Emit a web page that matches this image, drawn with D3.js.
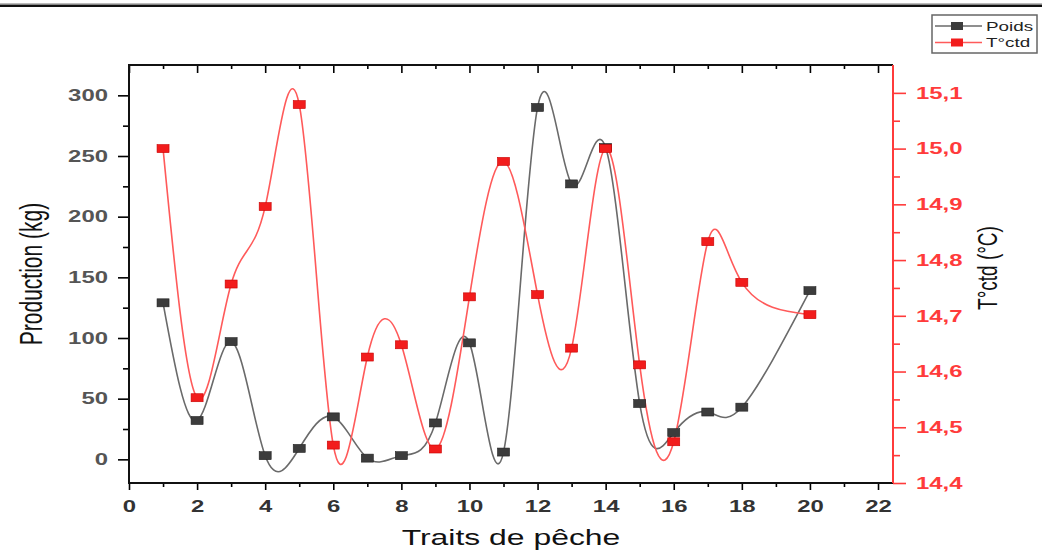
<!DOCTYPE html>
<html>
<head>
<meta charset="utf-8">
<script src="https://cdn.jsdelivr.net/npm/d3@7"></script>
<style>
  body { margin: 0; background: #fff; }
  svg { display: block; font-family: "Liberation Sans", Arial, sans-serif; }
</style>
</head>
<body>
<div id="my_dataviz"></div>
<script>
// data (trait 19 has no value)
var traits = [1, 2, 3, 4, 5, 6, 7, 8, 9, 10, 11, 12, 13, 14, 15, 16, 17, 18, 20];
var poids = [129, 32, 97, 3, 9, 35, 1, 3, 30, 96, 6, 290, 227, 257, 46, 22, 39, 43, 139];
var temp = [15.0, 14.553, 14.757, 14.896, 15.079, 14.468, 14.626, 14.648, 14.461, 14.734,
            14.977, 14.738, 14.642, 15.0, 14.612, 14.474, 14.833, 14.76, 14.702];

var xTicks = [0, 2, 4, 6, 8, 10, 12, 14, 16, 18, 20, 22];
var xMinor = [1, 3, 5, 7, 9, 11, 13, 15, 17, 19, 21];
var yTicks = [0, 50, 100, 150, 200, 250, 300];
var yMinor = [25, 75, 125, 175, 225, 275];
var tTicks = [14.4, 14.5, 14.6, 14.7, 14.8, 14.9, 15.0, 15.1];
var tMinor = [14.45, 14.55, 14.65, 14.75, 14.85, 14.95, 15.05];

var series = [
  {name: "Poids", line: "#6a6a6a", fill: "#3c3c3c", stroke: "#222"},
  {name: "T°ctd", line: "#ff5a5a", fill: "#f21c1c", stroke: "#c80000"}
];

var margin = {top: 65, right: 149, bottom: 68, left: 129},
    width = 1042 - margin.left - margin.right,
    height = 551 - margin.top - margin.bottom;
var stretch = 1.45; // the picture is widened, so is its text

var root = d3.select("#my_dataviz")
  .append("svg")
    .attr("width", 1042)
    .attr("height", 551);

// the page rule at the top of the scan
root.append("line")
  .attr("x1", 0).attr("x2", 1042)
  .attr("y1", 3.5).attr("y2", 3.5)
  .attr("stroke", "#bbb").attr("stroke-width", 1);
root.append("line")
  .attr("x1", 0).attr("x2", 1042)
  .attr("y1", 5.8).attr("y2", 5.8)
  .attr("stroke", "#111").attr("stroke-width", 2.5);

var svg = root.append("g")
  .attr("transform", "translate(" + margin.left + "," + margin.top + ")");

var x = d3.scaleLinear().domain([0, 22.44]).range([0, width]);
var y = d3.scaleLinear().domain([-19.5, 325]).range([height, 0]);
var y2 = d3.scaleLinear().domain([14.4, 15.15]).range([height, 0]);

var comma = d3.formatLocale({decimal: ",", thousands: ".", grouping: [3], currency: ["", ""]}).format(".1f");

// X axis bottom
svg.append("g")
  .attr("transform", "translate(0," + height + ")")
  .call(d3.axisBottom(x).tickValues(xMinor).tickSize(4).tickFormat(""));
var xAxis = svg.append("g")
  .attr("transform", "translate(0," + height + ")")
  .call(d3.axisBottom(x).tickValues(xTicks).tickSize(7).tickFormat(d3.format("d")));
xAxis.selectAll("text")
  .attr("y", 17)
  .attr("transform", "scale(" + stretch + ",1)")
  .style("font-size", "16.5px")
  .style("font-weight", "bold")
  .attr("fill", "#333");

// top ticks, pointing in
svg.append("g")
  .call(d3.axisTop(x).tickValues(xMinor).tickSize(-4).tickFormat(""));
svg.append("g")
  .call(d3.axisTop(x).tickValues(xTicks).tickSize(-8).tickFormat(""));

// Y axis left
svg.append("g")
  .call(d3.axisLeft(y).tickValues(yMinor).tickSize(6).tickFormat(""));
var yAxis = svg.append("g")
  .call(d3.axisLeft(y).tickValues(yTicks).tickSize(11));
yAxis.selectAll("text")
  .attr("x", -21 / stretch)
  .attr("transform", "scale(" + stretch + ",1)")
  .style("font-size", "16.5px")
  .style("font-weight", "bold")
  .attr("fill", "#555");

// Y axis right (temperature)
var rAxisMinor = svg.append("g")
  .attr("transform", "translate(" + width + ",0)")
  .call(d3.axisRight(y2).tickValues(tMinor).tickSize(7).tickFormat(""));
var rAxis = svg.append("g")
  .attr("transform", "translate(" + width + ",0)")
  .call(d3.axisRight(y2).tickValues(tTicks).tickSize(13).tickFormat(comma));
rAxis.selectAll("text")
  .attr("x", 23 / stretch)
  .attr("transform", "scale(" + stretch + ",1)")
  .style("font-size", "16.5px")
  .style("font-weight", "bold")
  .attr("fill", "#ff3b3b");
rAxis.selectAll("line").attr("stroke", "#ff3b3b");
rAxisMinor.selectAll("line").attr("stroke", "#ff3b3b");

svg.selectAll(".domain").remove();
svg.selectAll(".tick line").attr("stroke-width", 1.6);
svg.selectAll(".tick text").attr("font-family", null);

// frame
svg.append("path")
  .attr("d", "M" + width + ",0H0V" + height + "H" + width)
  .attr("fill", "none")
  .attr("stroke", "#111")
  .attr("stroke-width", 2);
svg.append("line")
  .attr("x1", width).attr("x2", width)
  .attr("y1", 0).attr("y2", height)
  .attr("stroke", "#ff3b3b")
  .attr("stroke-width", 2);

// axis titles
root.append("text")
  .attr("transform", "translate(" + (402 + 109) + ",545) scale(" + stretch + ",1)")
  .attr("text-anchor", "middle")
  .style("font-size", "22px")
  .attr("fill", "#111")
  .text("Traits de pêche");
root.append("text")
  .attr("transform", "translate(42,274) rotate(-90) scale(1," + stretch + ")")
  .attr("text-anchor", "middle")
  .style("font-size", "21px")
  .attr("fill", "#111")
  .text("Production (kg)");
root.append("text")
  .attr("transform", "translate(997,268) rotate(-90) scale(1," + stretch + ")")
  .attr("text-anchor", "middle")
  .style("font-size", "19px")
  .attr("fill", "#111")
  .text("T°ctd (°C)");

// Lines
var rows = traits.map(function(t, i) { return {t: t, p: poids[i], c: temp[i]}; });

var linePoids = d3.line()
  .curve(d3.curveNatural)
  .x(function(d) { return x(d.t); })
  .y(function(d) { return y(d.p); });
var lineTemp = d3.line()
  .curve(d3.curveNatural)
  .x(function(d) { return x(d.t); })
  .y(function(d) { return y2(d.c); });

svg.append("path")
  .datum(rows)
  .attr("d", linePoids)
  .attr("fill", "none")
  .attr("stroke", series[0].line)
  .attr("stroke-width", 1.6);
svg.append("path")
  .datum(rows)
  .attr("d", lineTemp)
  .attr("fill", "none")
  .attr("stroke", series[1].line)
  .attr("stroke-width", 1.6);

// square markers
svg.selectAll("mysquareP")
  .data(rows)
  .enter()
  .append("rect")
    .attr("x", function(d) { return x(d.t) - 6; })
    .attr("y", function(d) { return y(d.p) - 4; })
    .attr("width", 12)
    .attr("height", 8)
    .attr("fill", series[0].fill)
    .attr("stroke", series[0].stroke)
    .attr("stroke-width", 0.6);
svg.selectAll("mysquareT")
  .data(rows)
  .enter()
  .append("rect")
    .attr("x", function(d) { return x(d.t) - 6; })
    .attr("y", function(d) { return y2(d.c) - 4; })
    .attr("width", 12)
    .attr("height", 8)
    .attr("fill", series[1].fill)
    .attr("stroke", series[1].stroke)
    .attr("stroke-width", 0.6);

// legend
var legend = root.append("g").attr("transform", "translate(932,15)");
legend.append("rect")
  .attr("width", 105)
  .attr("height", 38)
  .attr("fill", "#fff")
  .attr("stroke", "#666")
  .attr("stroke-width", 1.5);
var item = legend.selectAll("myitem")
  .data(series)
  .enter()
  .append("g")
    .attr("transform", function(d, i) { return "translate(0," + (11 + i * 16.5) + ")"; });
item.append("line")
  .attr("x1", 3).attr("x2", 50)
  .attr("stroke", function(d) { return d.line; })
  .attr("stroke-width", 1.3);
item.append("rect")
  .attr("x", 19).attr("y", -4)
  .attr("width", 12).attr("height", 8)
  .attr("fill", function(d) { return d.fill; });
item.append("text")
  .attr("transform", "translate(54,4.5) scale(" + stretch + ",1)")
  .style("font-size", "13px")
  .attr("fill", "#222")
  .text(function(d) { return d.name; });
</script>
</body>
</html>
